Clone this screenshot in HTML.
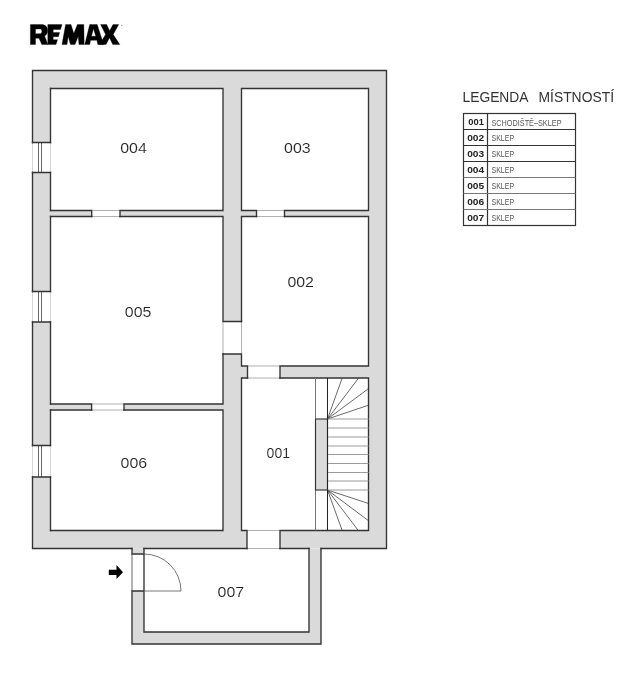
<!DOCTYPE html>
<html><head><meta charset="utf-8">
<style>
html,body{margin:0;padding:0;background:#fff;}
body{width:640px;height:691px;overflow:hidden;position:relative;}
svg{position:absolute;left:0;top:0;will-change:transform;}
text{font-family:"Liberation Sans",sans-serif;}
</style></head>
<body>
<svg width="640" height="691" viewBox="0 0 640 691">
<!-- logo -->
<g fill="#000" stroke="#000" stroke-width="0.35" stroke-linejoin="miter">
<path fill-rule="evenodd" d="M30.4,24.6H41.5C45.6,24.6 47.6,27.2 47.6,30.5C47.6,33 46.6,34.9 44.6,36L48,44.6H41.8L39,38.2H35.5V44.6H30.4ZM35.5,29H40.3C41.4,29 41.9,30 41.9,31.3C41.9,32.7 41.3,33.7 40.2,33.7H35.5Z"/>
<path d="M47.8,24.6H62L60.5,29.5H53.2V32.5H59.6L58.4,36.7H53.2V39.7H57.5L56,44.6H47.8Z"/>
<path d="M62,44.6L65.6,24.6H71L73.8,33.5L77.4,24.6H83.8L84.2,44.6H79L78.2,36.5L75,44.6H70.5L68.2,36.5L67,44.6Z"/>
<path fill-rule="evenodd" d="M84.8,44.6L89.7,24.6H97.2L103.6,44.6H97.8L96.9,40.3H90.6L89.7,44.6ZM91.4,36.2H95.8L93.5,28.8Z"/>
<path d="M100.6,24.6H106.7L109.6,30.7L113,24.6H118.7L113.2,34.4L119.8,44.6H112.8L109.5,37.8L106,44.6H99.3L105.6,34.4Z"/>
<circle cx="121.8" cy="25.3" r="0.6" fill="#888" stroke="none"/>
</g>

<!-- fills -->
<rect x="32.5" y="70.5" width="354" height="478" fill="#dadada"/>
<rect x="132" y="548.5" width="189" height="95.5" fill="#dadada"/>
<rect x="144" y="548.5" width="165" height="83.5" fill="#fff"/>
<g fill="#fff">
<rect x="50.5" y="88.5" width="172.5" height="122"/>
<rect x="241.5" y="88.5" width="127" height="122"/>
<rect x="50.5" y="216.5" width="172.5" height="187.5"/>
<rect x="241.5" y="216.5" width="127" height="149.5"/>
<rect x="50.5" y="410" width="172.5" height="120.5"/>
<rect x="241.5" y="378" width="127" height="152.5"/>
<!-- openings -->
<rect x="32.5" y="142.5" width="18" height="30"/>
<rect x="32.5" y="291.5" width="18" height="30.5"/>
<rect x="32.5" y="445.5" width="18" height="31.5"/>
<rect x="91.7" y="210" width="28.3" height="7"/>
<rect x="256.5" y="210" width="28" height="7"/>
<rect x="222.5" y="321.5" width="19.5" height="32.5"/>
<rect x="247.5" y="365.5" width="32.5" height="13"/>
<rect x="91.6" y="403.5" width="32.4" height="7"/>
<rect x="247" y="530" width="33" height="19"/>
<rect x="132" y="554" width="12" height="37"/>
</g>

<!-- light threshold lines -->
<g stroke="#b0b0b0" stroke-width="1" fill="none">
<path d="M91.7,210.5H120M91.7,216.5H120"/>
<path d="M256.5,210.5H284.5M256.5,216.5H284.5"/>
<path d="M223,321.5V354M241.5,321.5V354"/>
<path d="M247.5,366H280M247.5,378H280"/>
<path d="M91.6,404H124M91.6,410H124"/>
<path d="M247,530.5H280M247,548.5H280"/>
</g>
<path d="M132,554V591" stroke="#666" stroke-width="1" fill="none"/>
<path d="M32.5,142.5V172.5M50.5,142.5V172.5M32.5,291.5V322M50.5,291.5V322M32.5,445.5V477M50.5,445.5V477" stroke="#d4d4d4" stroke-width="1" fill="none"/>
<!-- window glass -->
<g stroke="#555" stroke-width="0.9" fill="none">
<path d="M38.5,142.5V172.5M41.5,142.5V172.5"/>
<path d="M38.5,291.5V322M41.5,291.5V322"/>
<path d="M38.5,445.5V477M41.5,445.5V477"/>
</g>

<!-- walls -->
<g stroke="#333" stroke-width="1.35" fill="none" stroke-linecap="square">
<!-- outer -->
<path d="M32.5,142.5V70.5H386.5V548.5H321"/>
<path d="M32.5,172.5V291.5M32.5,322V445.5M32.5,477V548.5H132"/>
<path d="M144,548.5H247M280,548.5H309"/>
<!-- left inner face -->
<path d="M50.5,88.5V142.5M50.5,172.5V210.5M50.5,216.5V291.5M50.5,322V404M50.5,410V445.5M50.5,477V530.5"/>
<!-- window jambs -->
<path d="M32.5,142.5H50.5M32.5,172.5H50.5M32.5,291.5H50.5M32.5,322H50.5M32.5,445.5H50.5M32.5,477H50.5"/>
<!-- 004 -->
<path d="M50.5,88.5H223V210.5M50.5,210.5H91.7V216.5M120,216.5V210.5H223"/>
<!-- 003 -->
<path d="M241.5,210.5V88.5H368.5V210.5H284.5V216.5M241.5,210.5H256.5V216.5"/>
<!-- 005 -->
<path d="M50.5,216.5H91.7M120,216.5H223V321.5H241.5M223,354H241.5V366H247.5V378"/>
<path d="M223,354V404H124V410M50.5,404H91.6V410"/>
<!-- 002 -->
<path d="M241.5,321.5V216.5H256.5M284.5,216.5H368.5V366H280V378"/>
<!-- 006 -->
<path d="M50.5,410H91.6M124,410H223V530.5H50.5"/>
<!-- 001 -->
<path d="M247.5,378H241.5V530.5H247V548.5M280,378H368.5V530.5H280V548.5"/>
<!-- annex -->
<path d="M132,548.5V554H144M132,591H144M132,591V644H321V548.5"/>
<path d="M144,548.5V632H309V548.5"/>
</g>

<!-- door swing -->
<g stroke="#777" stroke-width="1" fill="none">
<path d="M144,554A37,37 0 0 1 181,591H144"/>
</g>

<!-- stairs -->
<path d="M315.5,378V419M315.5,490V530.5" stroke="#777" stroke-width="1" fill="none"/>
<rect x="315.5" y="419" width="12" height="71" fill="#dadada" stroke="#333" stroke-width="1.15"/>
<g stroke="#444" stroke-width="0.8" fill="none">
<path d="M327.5,419L342.2,378M327.5,419L358.6,378M327.5,419L368.5,388.6M327.5,419L368.5,405.2"/>
<path d="M327.5,490L342.2,530.5M327.5,490L358.3,530.5M327.5,490L368.5,520.7M327.5,490L368.5,503.5"/>
</g>
<g stroke="#9a9a9a" stroke-width="1" fill="none">
<path d="M327.5,419H368.5M327.5,428H368.5M327.5,437H368.5M327.5,446H368.5M327.5,454.5H368.5M327.5,463.5H368.5M327.5,472.5H368.5M327.5,481H368.5M327.5,490H368.5"/>
</g>
<path d="M327.5,378V530.5" stroke="#222" stroke-width="1.05"/>

<!-- arrow -->
<path d="M108.8,569.8H116.5V565L123,572.2L116.5,579V575H108.8Z" fill="#000"/>

<!-- labels -->
<g font-size="14" fill="#222" stroke="#fff" stroke-width="0.12">
<text x="120.2" y="152.8" textLength="26.6" lengthAdjust="spacingAndGlyphs">004</text>
<text x="284.1" y="153.3" textLength="26.6" lengthAdjust="spacingAndGlyphs">003</text>
<text x="124.8" y="316.7" textLength="26.6" lengthAdjust="spacingAndGlyphs">005</text>
<text x="287.4" y="286.7" textLength="26.6" lengthAdjust="spacingAndGlyphs">002</text>
<text x="120.6" y="468.3" textLength="26.6" lengthAdjust="spacingAndGlyphs">006</text>
<text x="266.6" y="458.3" textLength="23.4" lengthAdjust="spacingAndGlyphs">001</text>
<text x="217.6" y="596.7" textLength="26.6" lengthAdjust="spacingAndGlyphs">007</text>
</g>

<!-- legend -->
<g font-size="14.3" fill="#333"><text x="462.5" y="102" textLength="66" lengthAdjust="spacingAndGlyphs">LEGENDA</text><text x="538.5" y="102" textLength="75.5" lengthAdjust="spacingAndGlyphs">MÍSTNOSTÍ</text></g>
<g stroke="#333" stroke-width="1.2" fill="none">
<rect x="463.5" y="113.5" width="112" height="112"/>
<path d="M487.5,113.5V225.5M463.5,129.5H575.5M463.5,145.5H575.5M463.5,161.5H575.5"/>
</g>
<g stroke="#777" stroke-width="1" fill="none">
<path d="M463.5,177.5H575.5M463.5,193.5H575.5M463.5,209.5H575.5"/>
</g>
<g font-size="9" font-weight="bold" fill="#222">
<text x="468.3" y="125.3" textLength="15.6" lengthAdjust="spacingAndGlyphs">001</text>
<text x="467.2" y="141.3" textLength="17.0" lengthAdjust="spacingAndGlyphs">002</text>
<text x="467.2" y="157.3" textLength="17.0" lengthAdjust="spacingAndGlyphs">003</text>
<text x="467.2" y="173.3" textLength="17.0" lengthAdjust="spacingAndGlyphs">004</text>
<text x="467.2" y="189.3" textLength="17.0" lengthAdjust="spacingAndGlyphs">005</text>
<text x="467.2" y="205.3" textLength="17.0" lengthAdjust="spacingAndGlyphs">006</text>
<text x="467.2" y="221.3" textLength="17.0" lengthAdjust="spacingAndGlyphs">007</text>
</g>
<g font-size="8.3" fill="#555">
<text x="491.5" y="125.5" textLength="70" lengthAdjust="spacingAndGlyphs">SCHODIŠTĚ–SKLEP</text>
<text x="491.5" y="141.3" textLength="22.6" lengthAdjust="spacingAndGlyphs">SKLEP</text>
<text x="491.5" y="157.3" textLength="22.6" lengthAdjust="spacingAndGlyphs">SKLEP</text>
<text x="491.5" y="173.3" textLength="22.6" lengthAdjust="spacingAndGlyphs">SKLEP</text>
<text x="491.5" y="189.3" textLength="22.6" lengthAdjust="spacingAndGlyphs">SKLEP</text>
<text x="491.5" y="205.3" textLength="22.6" lengthAdjust="spacingAndGlyphs">SKLEP</text>
<text x="491.5" y="221.3" textLength="22.6" lengthAdjust="spacingAndGlyphs">SKLEP</text>
</g>
</svg>
</body></html>
